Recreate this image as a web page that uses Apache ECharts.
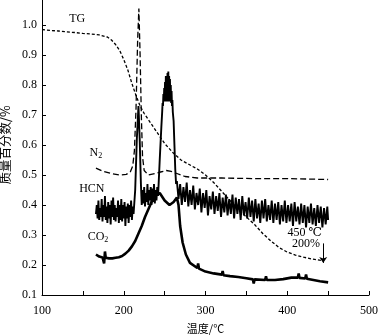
<!DOCTYPE html>
<html><head><meta charset="utf-8">
<script src="https://cdn.jsdelivr.net/npm/echarts@6/dist/echarts.min.js"></script>
<style>html,body{margin:0;padding:0;background:#fff}#c{width:378px;height:336px}</style>
</head><body><div id="c"></div>
<script>
// ---- data (temperature °C, mass fraction) ----
const tgData = [[100,0.985],[110,0.982],[120,0.98],[130,0.977],[140,0.975],[150,0.972],[160,0.97],[170,0.967],[180,0.96],[185,0.95],[190,0.935],[195,0.915],[200,0.885],[205,0.85],[210,0.805],[215,0.765],[220,0.73],[225,0.705],[230,0.685],[240,0.645],[250,0.605],[260,0.575],[270,0.55],[280,0.535],[290,0.52],[300,0.5],[310,0.475],[320,0.445],[330,0.415],[340,0.385],[350,0.36],[360,0.335],[370,0.305],[380,0.28],[390,0.258],[400,0.243],[410,0.233],[420,0.226],[430,0.22],[443,0.215]];
const n2Data = [[166,0.523],[175,0.512],[185,0.505],[195,0.5],[203,0.502],[208,0.51],[211,0.53],[213,0.58],[215,0.72],[217,0.95],[218.5,1.055],[220,0.9],[221.5,0.7],[223,0.56],[225,0.515],[230,0.5],[238,0.505],[245,0.51],[252,0.515],[258,0.512],[265,0.505],[275,0.495],[290,0.49],[320,0.49],[360,0.488],[400,0.488],[450,0.485]];
const hcnData = [
[166,0.37],[167,0.40],[168,0.355],[169,0.415],[170,0.35],[171,0.39],[172,0.36],[173,0.42],[174,0.345],[175,0.40],[176,0.36],[177,0.43],[178,0.35],[179,0.395],[180,0.34],[181,0.41],[182,0.355],[183,0.40],[184,0.335],[185,0.415],[186,0.36],[187,0.425],[188,0.35],[189,0.40],[190,0.345],[191,0.39],[192,0.36],[193,0.415],[194,0.34],[195,0.40],[196,0.35],[197,0.42],[198,0.345],[199,0.40],[200,0.355],[201,0.41],[202,0.33],[203,0.395],[204,0.355],[205,0.405],[206,0.34],[207,0.40],[208,0.36],[209,0.415],[210,0.35],[211,0.395],[212,0.37],
[214,0.45],[216,0.62],[218,0.73],[219.5,0.62],[221,0.47],
[222,0.40],[223,0.45],[224,0.405],[225,0.46],[226,0.395],[227,0.44],[228,0.41],[229,0.47],[230,0.40],[231,0.45],[232,0.415],[233,0.46],[234,0.40],[235,0.455],[236,0.41],[237,0.47],[238,0.405],[239,0.45],[240,0.415],[241,0.46],[242,0.43],
[244,0.55],[246,0.66],[247,0.71],[247.5,0.74],[248,0.73],[248.5,0.77],[249,0.745],[249.5,0.79],[250,0.75],[250.5,0.81],[251,0.745],[251.5,0.83],[252,0.75],[252.5,0.82],[253,0.745],[253.5,0.84],[254,0.75],[254.5,0.845],[255,0.745],[255.5,0.83],[256,0.75],[256.5,0.82],[257,0.745],[257.5,0.80],[258,0.74],[258.5,0.78],[259,0.73],[259.5,0.75],[260,0.71],[261,0.68],[262,0.60],[263,0.52],[264,0.47],
[265,0.48],[267,0.42],[269,0.47],[271,0.40],[273,0.46],[275,0.41],[277,0.475],[279,0.395],[281,0.45],[283,0.40],[285,0.465],[287,0.385],[289,0.44],[291,0.40],[293,0.455],[295,0.375],[297,0.44],[299,0.39],[301,0.45],[303,0.365],[305,0.43],[307,0.385],[309,0.445],[311,0.37],[313,0.43],[315,0.38],[317,0.44],[319,0.36],[321,0.425],[323,0.375],[325,0.435],[327,0.365],[329,0.42],[331,0.37],[333,0.435],[335,0.355],[337,0.425],[339,0.37],[341,0.42],[343,0.35],[345,0.43],[347,0.365],[349,0.41],[351,0.355],[353,0.425],[355,0.36],[357,0.415],[359,0.345],[361,0.42],[363,0.355],[365,0.405],[367,0.34],[369,0.415],[371,0.355],[373,0.42],[375,0.345],[377,0.40],[379,0.35],[381,0.415],[383,0.34],[385,0.405],[387,0.35],[389,0.41],[391,0.335],[393,0.40],[395,0.345],[397,0.415],[399,0.34],[401,0.40],[403,0.345],[405,0.405],[407,0.33],[409,0.41],[411,0.345],[413,0.395],[415,0.335],[417,0.405],[419,0.34],[421,0.40],[423,0.325],[425,0.395],[427,0.34],[429,0.405],[431,0.335],[433,0.39],[435,0.33],[437,0.40],[439,0.34],[441,0.395],[443,0.325],[445,0.39],[447,0.335],[449,0.395],[450,0.35]];
const co2Data = [[166,0.235],[170,0.228],[174,0.225],[176,0.205],[177,0.245],[178,0.224],[182,0.222],[186,0.222],[190,0.224],[194,0.226],[198,0.23],[202,0.238],[206,0.248],[210,0.262],[214,0.28],[218,0.305],[222,0.33],[226,0.36],[230,0.385],[234,0.41],[238,0.43],[244,0.44],[250,0.415],[256,0.40],[261,0.41],[265,0.425],[267,0.40],[269,0.33],[272,0.275],[276,0.235],[281,0.207],[290,0.19],[291,0.205],[292,0.188],[300,0.178],[310,0.172],[320,0.168],[321,0.18],[322,0.166],[330,0.163],[340,0.16],[350,0.156],[358,0.152],[359,0.138],[360,0.152],[373,0.15],[374,0.162],[375,0.15],[385,0.15],[395,0.153],[405,0.158],[413,0.158],[414,0.172],[415,0.157],[422,0.155],[423,0.168],[424,0.154],[432,0.15],[440,0.146],[450,0.142]];
const arrowData = [[444,0.272],[444,0.207]];
const yTicks = [0.1,0.2,0.3,0.4,0.5,0.6,0.7,0.8,0.9,1.0];
const xTicks = [100,200,300,400,500];
const textLabels = [
  {text:'TG', at:[143,1.02]},
  {text:'{a|N}{s|2}', at:[166,0.575]},
  {text:'HCN', at:[161,0.453]},
  {text:'{a|CO}{s|2}', at:[168.5,0.293]},
  {text:'450 ℃', at:[421.5,0.307]},
  {text:'200%', at:[423,0.27]}
];

const serif = '"Liberation Serif","DejaVu Serif",serif';
const chart = echarts.init(document.getElementById('c'), null, {renderer:'canvas'});
const lineS = (name, data, style) => ({
  name, type:'line', data, symbol:'none', showSymbol:false, animation:false,
  lineStyle: Object.assign({color:'#000'}, style), z:2
});
chart.setOption({
  animation:false,
  backgroundColor:'#fff',
  grid:{left:42, right:9, top:-5, bottom:41, containLabel:false, outerBoundsMode:'none'},
  xAxis:{
    type:'value', min:100, max:500, interval:50,
    axisLine:{lineStyle:{color:'#000', width:1}},
    axisTick:{inside:true, length:4, lineStyle:{color:'#000'}},
    splitLine:{show:false},
    axisLabel:{margin:10, color:'#000', fontFamily:serif, fontSize:12,
      formatter: v => xTicks.includes(v) ? String(v) : ''},
    name:'温度/℃', nameLocation:'middle', nameGap:28,
    nameTextStyle:{color:'#000', fontFamily:'"Noto Sans CJK SC"', fontSize:11}
  },
  yAxis:{
    type:'value', min:0.1, max:1.1, interval:0.1,
    axisLine:{show:true, lineStyle:{color:'#000', width:1}},
    axisTick:{show:true, inside:true, length:4, lineStyle:{color:'#000'}},
    splitLine:{show:false},
    axisLabel:{margin:5, color:'#000', fontFamily:serif, fontSize:12,
      formatter: v => yTicks.some(t => Math.abs(t - v) < 1e-6) ? v.toFixed(1) : ''},
    name:'质量百分数/%', nameLocation:'middle', nameGap:24, nameRotate:90,
    nameTextStyle:{color:'#000', fontFamily:'"Noto Sans CJK SC"', fontSize:12.5}
  },
  series:[
    lineS('TG', tgData, {type:[3,2], width:1.3}),
    lineS('N2', n2Data, {type:[6,3], width:1.3}),
    lineS('HCN', hcnData, {width:1.9}),
    lineS('CO2', co2Data, {width:2.6}),
    {type:'line', data:arrowData, symbol:'none', animation:false,
      lineStyle:{color:'#000', width:1, opacity:0},
      markLine:{silent:true, animation:false, symbol:['none','arrow'], symbolSize:6,
        label:{show:false}, lineStyle:{color:'#000', width:1, type:'solid', opacity:1},
        data:[[{coord:arrowData[0]},{coord:arrowData[1]}]]}}
  ]
});

const graphics = textLabels.map(l => {
  const p = chart.convertToPixel({gridIndex:0}, l.at);
  return {type:'text', x:p[0], y:p[1], silent:true, z:10,
    style:{text:l.text, fill:'#000', font:'12px ' + serif, align:'center', verticalAlign:'middle',
      rich:{a:{fontFamily:serif, fontSize:12, fill:'#000'}, s:{fontFamily:serif, fontSize:8, fill:'#000', padding:[6,0,0,0]}}}};
});
chart.setOption({graphic:graphics});
</script></body></html>
